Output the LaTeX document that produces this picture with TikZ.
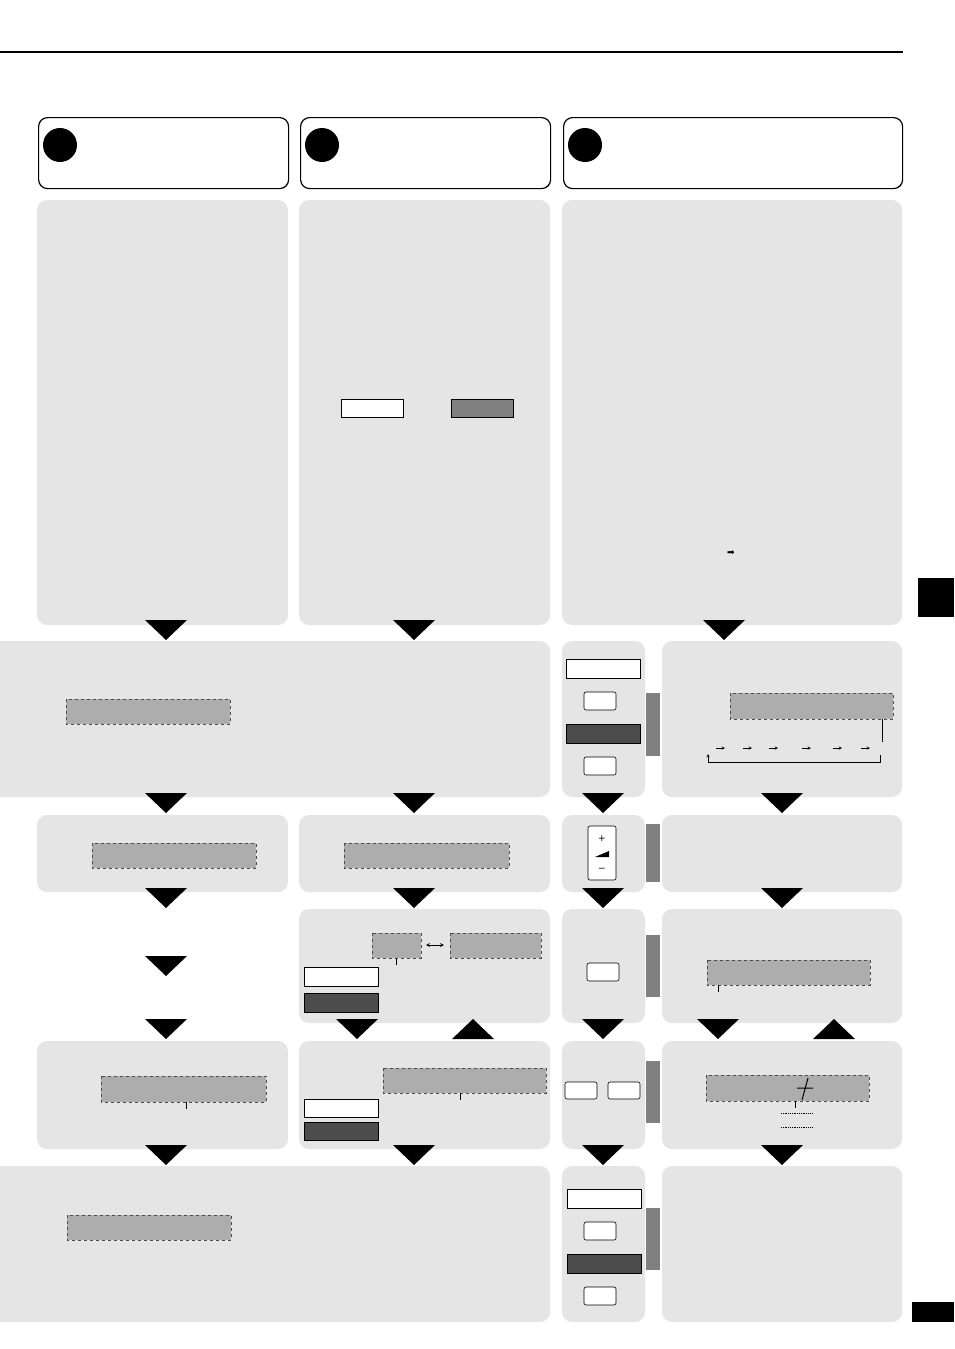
\documentclass[tikz,border=0pt]{standalone}
\usepackage{fontspec}
\setmainfont{DejaVu Sans}
\begin{document}
\begin{tikzpicture}[x=1pt,y=-1pt,
 panel/.style={fill=black!10,draw=none,rounded corners=10pt},
 head/.style={draw=black,line width=1.2pt,fill=white,rounded corners=9pt},
 lcd/.style={draw=black!70,dashed,fill=black!32,line width=0.5pt},
 wbox/.style={draw=black,fill=white,line width=0.6pt},
 dbox/.style={draw=black,fill=black!70,line width=0.6pt},
 mbox/.style={draw=black,fill=black!50,line width=0.6pt},
 btn/.style={draw=black,fill=white,rounded corners=2pt,line width=0.6pt},
 gbar/.style={fill=black!50,draw=none},
 tri/.style={fill=black,draw=none}]
\useasboundingbox (0,0) rectangle (954,1349);
\fill[white] (0,0) rectangle (954,1349);
\newcommand{\tdn}[2]{\fill[tri] (#1-21,#2) -- (#1+21,#2) -- (#1,#2+20) -- cycle;}
\newcommand{\tup}[2]{\fill[tri] (#1-21,#2+20) -- (#1+21,#2+20) -- (#1,#2) -- cycle;}
\draw[line width=2pt] (0,52) coordinate (l0) -- (903,52) coordinate (l1);
% headers
\node[head,minimum width=250pt,minimum height=71pt,anchor=north west] (h1) at (38,117) {};
\node[head,minimum width=250pt,minimum height=71pt,anchor=north west] (h2) at (300,117) {};
\node[head,minimum width=339pt,minimum height=71pt,anchor=north west] (h3) at (563,117) {};
\fill (60,145) circle (17); \fill (322,145) circle (17); \fill (585,145) circle (17);
% big panels
\fill[panel] (37,200) rectangle (288,625);
\fill[panel] (299,200) rectangle (550,625);
\fill[panel] (562,200) rectangle (902,625);
\node[wbox,minimum width=62pt,minimum height=18pt,anchor=north west] (w0) at (341,399) {};
\node[mbox,minimum width=62pt,minimum height=18pt,anchor=north west] (m0) at (451,399) {};
\node (ar) at (731,553) {\small ➡};
\fill (918,578) rectangle (954,617);
\fill (912,1302) rectangle (954,1322);
\tdn{166}{620}\tdn{414}{620}\tdn{724}{620}
% row 2
\fill[panel,sharp corners] (0,641) -- (540,641) arc (-90:0:10) -- (550,787) arc (0:90:10) -- (0,797) -- cycle;
\draw[lcd] (66,699) rectangle (230,724);
\fill[panel] (562,641) rectangle (645,797);
\draw[wbox] (566,659) rectangle (640,678);
\draw[btn] (584,692) rectangle (616,710);
\draw[dbox] (566,724) rectangle (640,743);
\draw[btn] (584,757) rectangle (616,775);
\fill[gbar] (646,693) rectangle (660,756);
\fill[panel] (662,641) rectangle (902,797);
\draw[lcd] (730,693) rectangle (893,719);
\draw[line width=0.5pt] (882,719) -- (882,742);
\foreach \x in {716,743,769,802,833,861}{\draw[-stealth,line width=0.5pt] (\x,748) -- (\x+9,748);}
\draw[-stealth,line width=0.5pt] (880,755) -- (880,762) -- (708,762) -- (708,754);
\tdn{166}{793}\tdn{414}{793}\tdn{603}{793}\tdn{782}{793}
% row 3
\fill[panel] (37,815) rectangle (288,892);
\draw[lcd] (92,843) rectangle (256,868);
\fill[panel] (299,815) rectangle (550,892);
\draw[lcd] (344,843) rectangle (509,868);
\fill[panel] (562,815) rectangle (645,892);
\draw[btn] (588,826) rectangle (616,880);
\node[font=\small,inner sep=0] (pl) at (602,839) {+};
\node[font=\small,inner sep=0] (mi) at (602,870) {−};
\fill (595,857) -- (609,851) -- (609,857) -- cycle;
\fill[gbar] (646,824) rectangle (660,882);
\fill[panel] (662,815) rectangle (902,892);
\tdn{166}{888}\tdn{414}{888}\tdn{603}{888}\tdn{782}{888}
\tdn{166}{956}
% row 4
\fill[panel] (299,909) rectangle (550,1023);
\draw[lcd] (372,933) rectangle (421,958);
\draw[lcd] (450,933) rectangle (541,958);
\draw[stealth-stealth,line width=0.8pt] (426,945) -- (444,945);
\draw[line width=0.5pt] (396,958) -- (396,965);
\draw[wbox] (304,967) rectangle (378,986);
\draw[dbox] (304,993) rectangle (378,1012);
\fill[panel] (562,909) rectangle (645,1023);
\draw[btn] (587,963) rectangle (619,981);
\fill[gbar] (646,935) rectangle (660,997);
\fill[panel] (662,909) rectangle (902,1023);
\draw[lcd] (707,960) rectangle (870,985);
\draw[line width=0.5pt] (718,985) -- (718,992);
\tdn{166}{1019}\tdn{357}{1019}\tup{473}{1019}\tdn{603}{1019}\tdn{718}{1019}\tup{834}{1019}
% row 5
\fill[panel] (37,1041) rectangle (288,1149);
\draw[lcd] (101,1076) rectangle (266,1102);
\draw[line width=0.5pt] (186,1102) -- (186,1109);
\fill[panel] (299,1041) rectangle (550,1149);
\draw[lcd] (383,1068) rectangle (546,1093);
\draw[line width=0.5pt] (460,1093) -- (460,1100);
\draw[wbox] (304,1099) rectangle (378,1117);
\draw[dbox] (304,1122) rectangle (378,1140);
\fill[panel] (562,1041) rectangle (645,1149);
\draw[btn] (565,1082) rectangle (597,1099);
\draw[btn] (608,1082) rectangle (640,1099);
\fill[gbar] (646,1061) rectangle (660,1123);
\fill[panel] (662,1041) rectangle (902,1149);
\draw[lcd] (706,1075) rectangle (869,1101);
\draw[line width=1pt] (797,1088) -- (813,1088) (808,1078) -- (802,1100);
\draw[line width=0.5pt] (795,1101) -- (795,1108);
\draw[densely dotted,line width=0.8pt] (781,1113) -- (813,1113) (781,1127) -- (813,1127);
\tdn{166}{1145}\tdn{414}{1145}\tdn{603}{1145}\tdn{782}{1145}
% row 6
\fill[panel,sharp corners] (0,1166) -- (540,1166) arc (-90:0:10) -- (550,1312) arc (0:90:10) -- (0,1322) -- cycle;
\draw[lcd] (67,1215) rectangle (231,1240);
\fill[panel] (562,1166) rectangle (645,1322);
\draw[wbox] (567,1189) rectangle (641,1208);
\draw[btn] (584,1222) rectangle (616,1240);
\draw[dbox] (567,1254) rectangle (641,1273);
\draw[btn] (584,1287) rectangle (616,1305);
\fill[gbar] (646,1208) rectangle (660,1270);
\fill[panel] (662,1166) rectangle (902,1322);
\end{tikzpicture}
\end{document}
